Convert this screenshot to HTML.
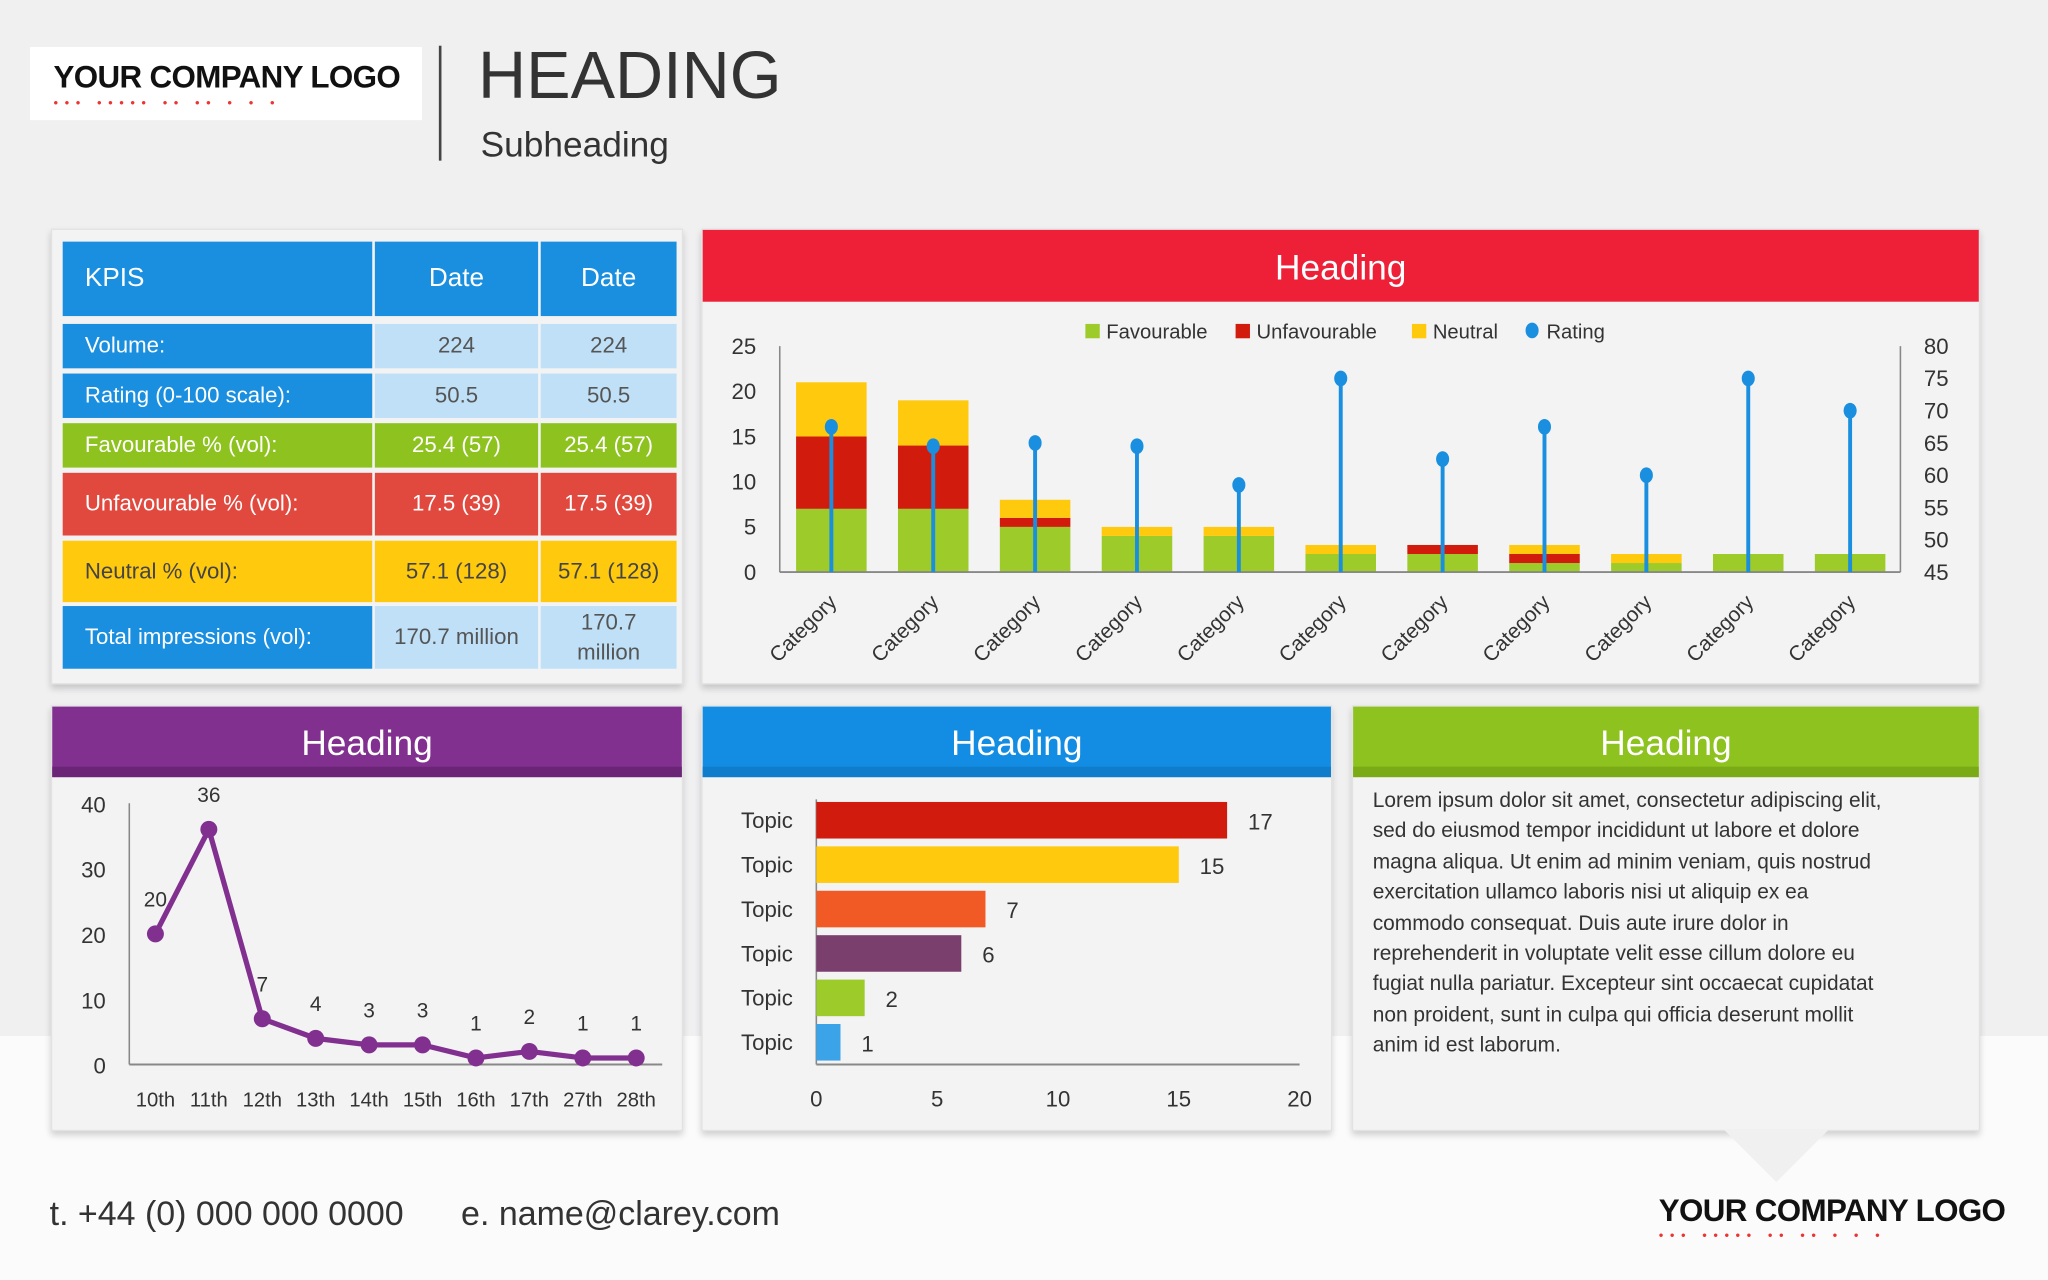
<!DOCTYPE html>
<html><head><meta charset="utf-8">
<style>
html,body{margin:0;padding:0;width:2048px;height:1280px;overflow:hidden;background:#fafafa;font-family:"Liberation Sans",sans-serif;}
#root{position:absolute;left:0;top:0;width:1568px;height:980px;transform:scale(1.306122);transform-origin:0 0;background:linear-gradient(#f0f0f1 0,#f0f0f1 793px,#fbfbfb 793px);}
.abs{position:absolute;}
.panel{position:absolute;background:#f3f3f4;box-shadow:0 3px 5px rgba(0,0,0,0.18);border:1px solid #e2e2e2;}
.hdr{position:absolute;left:0;top:0;right:0;color:#fff;text-align:center;font-size:27px;}
.cell{position:absolute;color:#fff;font-size:17px;display:flex;align-items:center;box-sizing:border-box;}
.c1{padding-left:17px}
.cv{justify-content:center;text-align:center;color:#555;}
.bl{white-space:nowrap;}
svg text{font-family:"Liberation Sans",sans-serif;}
</style></head><body>
<div id="root">
  <div class="abs" style="left:23px;top:36px;width:300px;height:56px;background:#fff;">
    <div class="abs" style="left:18px;top:10px;font-size:24px;font-weight:bold;letter-spacing:-0.5px;color:#111;">YOUR COMPANY LOGO</div>
    <div class="abs" style="left:18px;top:38px;font-size:10px;color:#e33;letter-spacing:5px;">••• ••••• •• •• • • •</div>
  </div>
  <div class="abs" style="left:336px;top:35px;width:2px;height:88px;background:#444;"></div>
  <div class="abs" style="left:366px;top:28px;font-size:51px;color:#333;">HEADING</div>
  <div class="abs" style="left:368px;top:96px;font-size:27px;color:#333;">Subheading</div>

  <div class="panel" style="left:39px;top:175px;width:482px;height:347px;">
    <div class="cell c1" style="left:8px;top:9px;width:237px;height:57px;background:#1a8fe0;font-size:20px;">KPIS</div>
    <div class="cell cv" style="left:247px;top:9px;width:125px;height:57px;background:#1a8fe0;color:#fff;font-size:20px;">Date</div>
    <div class="cell cv" style="left:374px;top:9px;width:104px;height:57px;background:#1a8fe0;color:#fff;font-size:20px;">Date</div>

    <div class="cell c1" style="left:8px;top:72px;width:237px;height:34px;background:#1a8fe0;">Volume:</div>
    <div class="cell cv" style="left:247px;top:72px;width:125px;height:34px;background:#bfe0f7;">224</div>
    <div class="cell cv" style="left:374px;top:72px;width:104px;height:34px;background:#bfe0f7;">224</div>

    <div class="cell c1" style="left:8px;top:110px;width:237px;height:34px;background:#1a8fe0;">Rating (0-100 scale):</div>
    <div class="cell cv" style="left:247px;top:110px;width:125px;height:34px;background:#bfe0f7;">50.5</div>
    <div class="cell cv" style="left:374px;top:110px;width:104px;height:34px;background:#bfe0f7;">50.5</div>

    <div class="cell c1" style="left:8px;top:148px;width:237px;height:34px;background:#8dc21f;">Favourable % (vol):</div>
    <div class="cell cv" style="left:247px;top:148px;width:125px;height:34px;background:#8dc21f;color:#fff;">25.4 (57)</div>
    <div class="cell cv" style="left:374px;top:148px;width:104px;height:34px;background:#8dc21f;color:#fff;">25.4 (57)</div>

    <div class="cell c1" style="left:8px;top:186px;width:237px;height:48px;background:#e2493e;">Unfavourable % (vol):</div>
    <div class="cell cv" style="left:247px;top:186px;width:125px;height:48px;background:#e2493e;color:#fff;">17.5 (39)</div>
    <div class="cell cv" style="left:374px;top:186px;width:104px;height:48px;background:#e2493e;color:#fff;">17.5 (39)</div>

    <div class="cell c1" style="left:8px;top:238px;width:237px;height:47px;background:#ffc90e;color:#444;">Neutral % (vol):</div>
    <div class="cell cv" style="left:247px;top:238px;width:125px;height:47px;background:#ffc90e;color:#444;">57.1 (128)</div>
    <div class="cell cv" style="left:374px;top:238px;width:104px;height:47px;background:#ffc90e;color:#444;">57.1 (128)</div>

    <div class="cell c1" style="left:8px;top:288px;width:237px;height:48px;background:#1a8fe0;">Total impressions (vol):</div>
    <div class="cell cv" style="left:247px;top:288px;width:125px;height:48px;background:#bfe0f7;">170.7 million</div>
    <div class="cell cv" style="left:374px;top:288px;width:104px;height:48px;background:#bfe0f7;line-height:23px;">170.7<br>million</div>
  </div>

  <div class="panel" style="left:537px;top:175px;width:977px;height:347px;">
    <div class="hdr" style="height:55px;line-height:58px;background:#ee2038;">Heading</div>
  </div>

  <div class="panel" style="left:39px;top:540px;width:482px;height:324px;">
    <div class="hdr" style="height:46px;line-height:56px;background:#823090;border-bottom:8px solid #6a2577;">Heading</div>
  </div>
  <div class="panel" style="left:537px;top:540px;width:481px;height:324px;">
    <div class="hdr" style="height:46px;line-height:56px;background:#138de3;border-bottom:8px solid #0f7ccc;">Heading</div>
  </div>
  <div class="panel" style="left:1035px;top:540px;width:479px;height:324px;">
    <div class="hdr" style="height:46px;line-height:56px;background:#8dc21f;border-bottom:8px solid #7aab17;">Heading</div>
    <div class="abs" style="left:15px;top:61px;width:458px;font-size:16px;line-height:23.4px;color:#333;">
      <div class="bl">Lorem ipsum dolor sit amet, consectetur adipiscing elit,</div>
      <div class="bl">sed do eiusmod tempor incididunt ut labore et dolore</div>
      <div class="bl">magna aliqua. Ut enim ad minim veniam, quis nostrud</div>
      <div class="bl">exercitation ullamco laboris nisi ut aliquip ex ea</div>
      <div class="bl">commodo consequat. Duis aute irure dolor in</div>
      <div class="bl">reprehenderit in voluptate velit esse cillum dolore eu</div>
      <div class="bl">fugiat nulla pariatur. Excepteur sint occaecat cupidatat</div>
      <div class="bl">non proident, sunt in culpa qui officia deserunt mollit</div>
      <div class="bl">anim id est laborum.</div>
    </div>
  </div>
  <div class="abs" style="left:1320px;top:865px;width:0;height:0;border-left:40px solid transparent;border-right:40px solid transparent;border-top:40px solid #f0f0f0;"></div>

  <div class="abs" style="left:38px;top:914px;font-size:26px;color:#333;">t. +44 (0) 000 000 0000</div>
  <div class="abs" style="left:353px;top:914px;font-size:26px;color:#333;">e. name@clarey.com</div>
  <div class="abs" style="left:1270px;top:914px;width:270px;height:50px;">
    <div class="abs" style="left:0;top:0;font-size:24px;font-weight:bold;letter-spacing:-0.5px;color:#111;">YOUR COMPANY LOGO</div>
    <div class="abs" style="left:0;top:27px;font-size:10px;color:#e33;letter-spacing:5px;">••• ••••• •• •• • • •</div>
  </div>
  <svg class="abs" id="topChart" style="left:0;top:0" width="1568" height="980"></svg>
  <svg class="abs" id="lowCharts" style="left:0;top:0" width="1568" height="980"></svg>
</div>
<script>
const categories = ["Category","Category","Category","Category","Category","Category","Category","Category","Category","Category","Category"];
const favourable = [7,7,5,4,4,2,2,1,1,2,2];
const unfavourable = [8,7,1,0,0,0,1,1,0,0,0];
const neutral = [6,5,2,1,1,1,0,1,1,0,0];
const rating = [67.5,64.5,65,64.5,58.5,75,62.5,67.5,60,75,70];
const leftTicks = [0,5,10,15,20,25];
const rightTicks = [45,50,55,60,65,70,75,80];
const days = ["10th","11th","12th","13th","14th","15th","16th","17th","27th","28th"];
const dayValues = [20,36,7,4,3,3,1,2,1,1];
const lineTicks = [0,10,20,30,40];
const topics = ["Topic","Topic","Topic","Topic","Topic","Topic"];
const topicValues = [17,15,7,6,2,1];
const barTicks = [0,5,10,15,20];

const NS="http://www.w3.org/2000/svg";
function mk(parent,tag,attrs,text){const e=document.createElementNS(NS,tag);for(const k in attrs)e.setAttribute(k,attrs[k]);if(text!==undefined)e.textContent=text;parent.appendChild(e);return e;}

const topSvg=document.getElementById('topChart');
const X0=597,X1=1455,Y0=438,Y1=265;
const yL=v=>Y0-(v/25)*(Y0-Y1);
const yR=v=>Y0-((v-45)/35)*(Y0-Y1);
const step=78, bw=54;
const xC=i=>636.5+i*step;
leftTicks.forEach(t=>{const e=mk(topSvg,'text',{x:579,y:yL(t)+6,'text-anchor':'end','font-size':17,fill:'#333'},t);

});
rightTicks.forEach(t=>{const e=mk(topSvg,'text',{x:1473,y:yR(t)+6,'font-size':17,fill:'#333'},t);

});
mk(topSvg,'line',{x1:X0,y1:Y1,x2:X0,y2:Y0,stroke:'#888','stroke-width':1.2});
mk(topSvg,'line',{x1:X1,y1:Y1,x2:X1,y2:Y0,stroke:'#888','stroke-width':1.2});
categories.forEach((c,i)=>{
  const x=xC(i)-bw/2;let acc=0;
  [[favourable,'#9dcb2a','favourable'],[unfavourable,'#d11b0c','unfavourable'],[neutral,'#ffc90e','neutral']].forEach(([arr,col,nm])=>{
    const v=arr[i]; if(v>0){const r=mk(topSvg,'rect',{x:x,y:yL(acc+v),width:bw,height:yL(acc)-yL(acc+v),fill:col});
    
    }
    acc+=v;});
  const t=mk(topSvg,'text',{x:0,y:0,'font-size':16,fill:'#333','text-anchor':'end',transform:`translate(${xC(i)+5},${462}) rotate(-45)`},c);
  
  
});
mk(topSvg,'line',{x1:X0,y1:Y0,x2:X1,y2:Y0,stroke:'#888','stroke-width':1.5});
rating.forEach((v,i)=>{
  mk(topSvg,'line',{x1:xC(i),y1:Y0,x2:xC(i),y2:yR(v),stroke:'#1a8fe0','stroke-width':3});
  const c=mk(topSvg,'ellipse',{cx:xC(i),cy:yR(v),rx:5,ry:6,fill:'#1a8fe0'});
  
  
});
const legend=[['Favourable','#9dcb2a','rect',831],['Unfavourable','#d11b0c','rect',946],['Neutral','#ffc90e','rect',1081],['Rating','#1a8fe0','circle',1168]];
legend.forEach(([n,col,sh,x])=>{
  const g=mk(topSvg,'g',{});
  
  
  if(sh==='rect')mk(g,'rect',{x:x,y:248,width:11,height:11,fill:col});else mk(g,'ellipse',{cx:x+5,cy:253,rx:5,ry:6,fill:col});
  mk(g,'text',{x:x+16,y:259,'font-size':15.5,fill:'#333'},n);
});

const low=document.getElementById('lowCharts');
const LX0=99,LY0=815,LY1=615;
const ly=v=>LY0-(v/40)*(LY0-LY1);
const lx=i=>119+i*40.9;
lineTicks.forEach(t=>{const e=mk(low,'text',{x:81,y:ly(t)+7,'text-anchor':'end','font-size':17,fill:'#333'},t);

});
mk(low,'line',{x1:LX0,y1:LY1,x2:LX0,y2:LY0,stroke:'#888','stroke-width':1.2});
mk(low,'line',{x1:LX0,y1:LY0,x2:507,y2:LY0,stroke:'#888','stroke-width':1.5});
mk(low,'polyline',{points:dayValues.map((v,i)=>lx(i)+','+ly(v)).join(' '),fill:'none',stroke:'#823090','stroke-width':4,'stroke-linejoin':'round'});
dayValues.forEach((v,i)=>{
  const c=mk(low,'circle',{cx:lx(i),cy:ly(v),r:6.5,fill:'#823090'});
  
  
  const t=mk(low,'text',{x:lx(i),y:ly(v)-21,'text-anchor':'middle','font-size':16,fill:'#333'},v);
  
  
  const d=mk(low,'text',{x:lx(i),y:847,'text-anchor':'middle','font-size':15.5,fill:'#333'},days[i]);
  
  
});

const BX0=625,BX1=995,BYtop=612,BY0=815;
const bx=v=>BX0+(v/20)*(BX1-BX0);
const rowH=34;
const colors=['#d11b0c','#ffc90e','#f25a25','#7b3f6e','#9dcb2a','#3ba3e8'];
mk(low,'line',{x1:BX0,y1:BYtop,x2:BX0,y2:BY0,stroke:'#888','stroke-width':1.2});
mk(low,'line',{x1:BX0,y1:BY0,x2:BX1,y2:BY0,stroke:'#888','stroke-width':1.5});
topicValues.forEach((v,i)=>{
  const cy=628+i*rowH;
  const r=mk(low,'rect',{x:BX0,y:cy-14,width:bx(v)-BX0,height:28,fill:colors[i]});
  
  
  const t=mk(low,'text',{x:607,y:cy+6,'text-anchor':'end','font-size':17,fill:'#333'},topics[i]);
  
  
  const n=mk(low,'text',{x:bx(v)+16,y:cy+7,'font-size':17,fill:'#333'},v);
  
  
});
barTicks.forEach(t=>{const e=mk(low,'text',{x:bx(t),y:847,'text-anchor':'middle','font-size':17,fill:'#333'},t);

});
</script>
</body></html>
